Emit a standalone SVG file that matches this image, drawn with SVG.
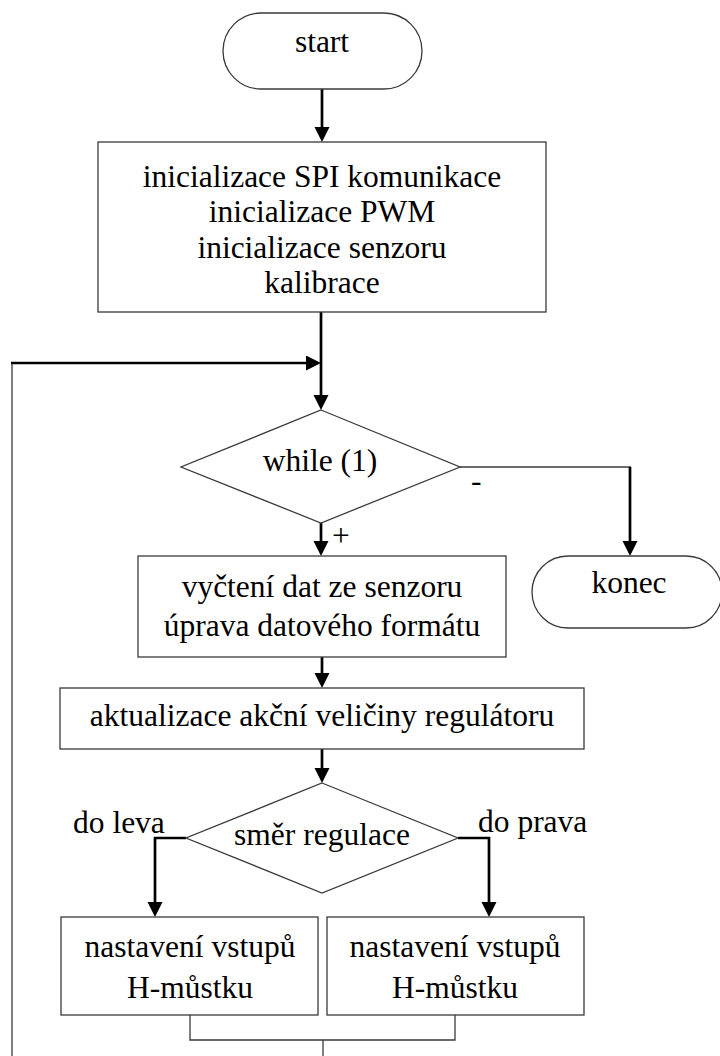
<svg xmlns="http://www.w3.org/2000/svg" width="720" height="1056" viewBox="0 0 720 1056">
  <defs>
    <marker id="arrow" markerUnits="userSpaceOnUse" markerWidth="16" markerHeight="16" refX="11" refY="7.5" orient="auto">
      <path d="M0,0 L15,7.5 L0,15 z" fill="#000"/>
    </marker>
    <style>
      .shape { fill: #fff; stroke: #3a3a3a; stroke-width: 1.3; }
      .label { font-family: "Liberation Serif", "Times New Roman", serif; font-size: 31.5px; fill: #000; }
      .mid { text-anchor: middle; }
      .flow { fill: none; stroke: #000; stroke-width: 2.7; }
      .thin { fill: none; stroke: #3a3a3a; stroke-width: 1.3; }
    </style>
  </defs>
  <rect width="720" height="1056" fill="#fff"/>

  <!-- connectors -->
  <g id="connectors">
    <line class="flow" x1="322" y1="89" x2="322" y2="138" marker-end="url(#arrow)"/>
    <line class="flow" x1="321" y1="312" x2="321" y2="406" marker-end="url(#arrow)"/>
    <!-- loop back to the top of while -->
    <line class="thin" x1="323" y1="1040" x2="323" y2="1056"/>
    <line class="thin" x1="12" y1="1056" x2="12" y2="363"/>
    <line class="flow" x1="11" y1="363" x2="317" y2="363" marker-end="url(#arrow)"/>
    <!-- while branches -->
    <line class="flow" x1="321" y1="523" x2="321" y2="552" marker-end="url(#arrow)"/>
    <line class="thin" x1="460" y1="467" x2="631" y2="467"/>
    <line class="flow" x1="630" y1="467" x2="630" y2="552" marker-end="url(#arrow)"/>
    <line class="flow" x1="322" y1="657" x2="322" y2="684" marker-end="url(#arrow)"/>
    <line class="flow" x1="322" y1="749" x2="322" y2="779" marker-end="url(#arrow)"/>
    <!-- direction branches -->
    <polyline class="flow" points="186,838 155,838 155,913" marker-end="url(#arrow)"/>
    <polyline class="flow" points="458,838 489,838 489,913" marker-end="url(#arrow)"/>
    <!-- merge -->
    <polyline class="thin" points="190,1015 190,1040 455,1040 455,1015"/>
  </g>

  <g id="start">
    <rect class="shape" x="223" y="13" width="199" height="76" rx="38" ry="38"/>
    <text class="label mid" x="322" y="52">start</text>
  </g>

  <g id="init">
    <rect class="shape" x="98" y="142" width="448" height="170"/>
    <text class="label mid" x="322" y="187">inicializace SPI komunikace</text>
    <text class="label mid" x="322" y="222">inicializace PWM</text>
    <text class="label mid" x="322" y="258">inicializace senzoru</text>
    <text class="label mid" x="322" y="293">kalibrace</text>
  </g>

  <g id="while">
    <polygon class="shape" points="321,410 460,467 321,523 181,467"/>
    <text class="label mid" x="320" y="471">while (1)</text>
    <text class="label" x="332" y="546">+</text>
    <text class="label" x="471" y="491">-</text>
  </g>

  <g id="konec">
    <rect class="shape" x="532" y="556" width="190" height="72" rx="36" ry="36"/>
    <text class="label mid" x="629" y="593">konec</text>
  </g>

  <g id="read">
    <rect class="shape" x="138" y="556" width="368" height="101"/>
    <text class="label mid" x="322" y="597">vyčtení dat ze senzoru</text>
    <text class="label mid" x="322" y="636">úprava datového formátu</text>
  </g>

  <g id="update">
    <rect class="shape" x="60" y="688" width="524" height="61"/>
    <text class="label mid" x="322" y="726">aktualizace akční veličiny regulátoru</text>
  </g>

  <g id="direction">
    <polygon class="shape" points="322,783 458,838 322,893 186,838"/>
    <text class="label mid" x="322" y="845">směr regulace</text>
    <text class="label" x="73" y="833">do leva</text>
    <text class="label" x="478" y="832">do prava</text>
  </g>

  <g id="bridge-left">
    <rect class="shape" x="61" y="917" width="257" height="98"/>
    <text class="label mid" x="190" y="957">nastavení vstupů</text>
    <text class="label mid" x="190" y="998">H-můstku</text>
  </g>

  <g id="bridge-right">
    <rect class="shape" x="327" y="917" width="257" height="98"/>
    <text class="label mid" x="455" y="957">nastavení vstupů</text>
    <text class="label mid" x="455" y="998">H-můstku</text>
  </g>
</svg>
